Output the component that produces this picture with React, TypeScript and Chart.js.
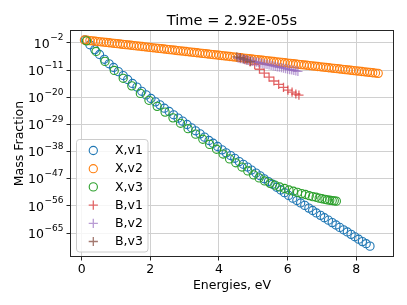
import React, { useEffect, useRef } from "react";
import { Chart, registerables } from "chart.js";

Chart.register(...registerables);

const FONT = "'DejaVu Sans', sans-serif";

// ---- data (energies in eV, mass fraction stored as log10 values) ----
const titleText = "Time = 2.92E-05s";
const xAxisTitle = "Energies, eV";
const yAxisTitle = "Mass Fraction";
const seriesLabels = ["X,v1", "X,v2", "X,v3", "B,v1", "B,v2", "B,v3"];
const seriesColors = [
  "rgba(31,119,180,1)",
  "rgba(255,127,14,1)",
  "rgba(44,160,44,1)",
  "rgba(214,39,40,0.7)",
  "rgba(148,103,189,0.65)",
  "rgba(140,86,75,0.8)",
];

const xTickValues = [0, 2, 4, 6, 8];
const yTickExponents = [-65, -56, -47, -38, -29, -20, -11, -2];

const xv1Energy = [0.10, 0.24, 0.38, 0.52, 0.66, 0.80, 0.93, 1.07, 1.21, 1.34, 1.48, 1.61, 1.75, 1.88, 2.02, 2.15, 2.28, 2.41, 2.55, 2.68, 2.81, 2.94, 3.07, 3.20, 3.32, 3.45, 3.58, 3.71, 3.83, 3.96, 4.09, 4.21, 4.34, 4.46, 4.59, 4.71, 4.83, 4.95, 5.08, 5.20, 5.32, 5.44, 5.56, 5.68, 5.80, 5.91, 6.03, 6.15, 6.27, 6.38, 6.50, 6.62, 6.73, 6.84, 6.96, 7.07, 7.19, 7.30, 7.41, 7.52, 7.63, 7.74, 7.85, 7.96, 8.07, 8.18, 8.29, 8.40];
const xv1LogMF = [-1.0, -2.6, -4.2, -5.8, -7.4, -8.9, -10.1, -11.5, -12.8, -14.1, -15.4, -16.6, -18.0, -19.2, -20.4, -21.5, -22.5, -23.6, -24.7, -25.8, -26.9, -27.9, -29.0, -30.1, -31.1, -32.1, -33.2, -34.3, -35.2, -36.3, -37.4, -38.4, -39.3, -40.2, -41.3, -42.2, -43.1, -44.1, -45.1, -46.0, -47.0, -47.9, -48.8, -49.8, -50.7, -51.6, -52.5, -53.4, -54.2, -55.0, -55.8, -56.7, -57.5, -58.3, -59.1, -59.9, -60.7, -61.5, -62.3, -63.1, -63.9, -64.6, -65.4, -66.2, -67.0, -67.8, -68.5, -69.3];

const xv2Energy = [0.08, 0.16, 0.24, 0.32, 0.40, 0.48, 0.56, 0.64, 0.72, 0.80, 0.88, 0.96, 1.04, 1.12, 1.20, 1.28, 1.36, 1.44, 1.52, 1.60, 1.68, 1.76, 1.84, 1.92, 2.00, 2.08, 2.16, 2.24, 2.32, 2.40, 2.48, 2.56, 2.64, 2.72, 2.80, 2.88, 2.96, 3.04, 3.12, 3.20, 3.28, 3.36, 3.44, 3.52, 3.60, 3.68, 3.76, 3.84, 3.92, 4.00, 4.08, 4.16, 4.24, 4.32, 4.40, 4.48, 4.56, 4.64, 4.72, 4.80, 4.88, 4.96, 5.04, 5.12, 5.20, 5.28, 5.36, 5.44, 5.52, 5.60, 5.68, 5.76, 5.84, 5.92, 6.00, 6.08, 6.16, 6.24, 6.32, 6.40, 6.48, 6.56, 6.64, 6.72, 6.80, 6.88, 6.96, 7.04, 7.12, 7.20, 7.28, 7.36, 7.44, 7.52, 7.60, 7.68, 7.76, 7.84, 7.92, 8.00, 8.08, 8.16, 8.24, 8.32, 8.40, 8.48, 8.56, 8.64];
const xv2LogMF = [-1.00, -1.10, -1.21, -1.31, -1.41, -1.52, -1.62, -1.72, -1.83, -1.93, -2.03, -2.14, -2.24, -2.34, -2.45, -2.55, -2.65, -2.76, -2.86, -2.96, -3.07, -3.17, -3.27, -3.38, -3.48, -3.59, -3.69, -3.79, -3.90, -4.00, -4.10, -4.21, -4.31, -4.41, -4.52, -4.62, -4.72, -4.83, -4.93, -5.03, -5.14, -5.24, -5.34, -5.45, -5.55, -5.65, -5.76, -5.86, -5.96, -6.07, -6.17, -6.27, -6.38, -6.48, -6.58, -6.69, -6.79, -6.89, -7.00, -7.10, -7.20, -7.31, -7.41, -7.51, -7.62, -7.72, -7.82, -7.93, -8.03, -8.13, -8.24, -8.34, -8.44, -8.55, -8.65, -8.76, -8.86, -8.96, -9.07, -9.17, -9.27, -9.38, -9.48, -9.58, -9.69, -9.79, -9.89, -10.00, -10.10, -10.20, -10.31, -10.41, -10.51, -10.62, -10.72, -10.82, -10.93, -11.03, -11.13, -11.24, -11.34, -11.44, -11.55, -11.65, -11.75, -11.86, -11.96, -12.06];

const xv3Energy = [0.14, 0.42, 0.68, 0.95, 1.21, 1.46, 1.71, 1.96, 2.20, 2.43, 2.66, 2.88, 3.10, 3.32, 3.53, 3.73, 3.93, 4.12, 4.31, 4.49, 4.67, 4.84, 5.01, 5.17, 5.33, 5.49, 5.63, 5.77, 5.91, 6.04, 6.17, 6.29, 6.41, 6.52, 6.63, 6.73, 6.83, 6.92, 7.00, 7.09, 7.16, 7.23, 7.30, 7.36, 7.42];
const xv3LogMF = [-1.3, -4.8, -8.1, -11.1, -13.7, -16.2, -18.7, -21.0, -23.0, -24.9, -26.8, -28.6, -30.4, -32.2, -33.9, -35.6, -37.2, -38.8, -40.4, -41.7, -43.1, -44.4, -45.7, -46.7, -47.7, -48.5, -49.1, -49.7, -50.2, -50.7, -51.1, -51.5, -51.9, -52.2, -52.6, -52.9, -53.1, -53.4, -53.6, -53.8, -54.0, -54.1, -54.2, -54.3, -54.4];

const bv1Energy = [4.62, 4.76, 4.90, 5.04, 5.18, 5.32, 5.46, 5.60, 5.74, 5.88, 6.01, 6.13, 6.24, 6.33];
const bv1LogMF = [-6.9, -7.5, -8.2, -9.2, -10.7, -12.0, -13.3, -14.6, -15.7, -16.7, -17.6, -18.3, -18.9, -19.3];

const bv2Energy = [4.56, 4.62, 4.68, 4.74, 4.80, 4.86, 4.92, 4.98, 5.04, 5.10, 5.16, 5.22, 5.28, 5.34, 5.40, 5.46, 5.52, 5.58, 5.64, 5.70, 5.76, 5.82, 5.88, 5.94, 6.00, 6.06, 6.12, 6.18, 6.24, 6.30];
const bv2LogMF = [-7.00, -7.15, -7.30, -7.46, -7.61, -7.76, -7.91, -8.06, -8.22, -8.37, -8.52, -8.67, -8.82, -8.98, -9.13, -9.28, -9.43, -9.58, -9.74, -9.89, -10.04, -10.19, -10.34, -10.50, -10.65, -10.80, -10.95, -11.10, -11.26, -11.41];

const bv3Energy = [4.52, 4.62, 4.72, 4.82, 4.92];
const bv3LogMF = [-6.6, -6.9, -7.3, -7.7, -8.2];

const seriesEnergies = [xv1Energy, xv2Energy, xv3Energy, bv1Energy, bv2Energy, bv3Energy];
const seriesLogMF = [xv1LogMF, xv2LogMF, xv3LogMF, bv1LogMF, bv2LogMF, bv3LogMF];
const seriesMarkers = ["circle", "circle", "circle", "cross", "cross", "cross"];

const CIRCLE_R = 4.1;
const CROSS_R = 4.6;

const drawMarker = (ctx: CanvasRenderingContext2D, style: string, x: number, y: number, r: number, color: string) => {
  ctx.strokeStyle = color;
  ctx.lineWidth = style === "circle" ? 1.1 : 1.3;
  ctx.beginPath();
  if (style === "circle") {
    ctx.arc(x, y, r, 0, Math.PI * 2);
  } else {
    ctx.moveTo(x - r, y);
    ctx.lineTo(x + r, y);
    ctx.moveTo(x, y - r);
    ctx.lineTo(x, y + r);
  }
  ctx.stroke();
};

const decorPlugin = {
  id: "decor",
  afterDatasetsDraw(chart: any) {
    const { ctx, chartArea: a } = chart;
    ctx.save();
    ctx.strokeStyle = "#262626";
    ctx.lineWidth = 1;
    ctx.strokeRect(a.left + 0.5, a.top + 0.5, a.right - a.left - 1, a.bottom - a.top - 1);
    ctx.restore();
  },
  afterDraw(chart: any) {
    const { ctx, chartArea: a } = chart;
    ctx.save();
    const cx = (a.left + a.right) / 2;
    ctx.fillStyle = "#000";
    ctx.textAlign = "center";
    ctx.textBaseline = "alphabetic";
    ctx.font = `14.6px ${FONT}`;
    ctx.fillText(titleText, cx, 25);
    ctx.font = `12.5px ${FONT}`;
    ctx.fillText(xAxisTitle, cx, 289);
    ctx.save();
    ctx.translate(22.5, (a.top + a.bottom) / 2);
    ctx.rotate(-Math.PI / 2);
    ctx.fillText(yAxisTitle, 0, 0);
    ctx.restore();

    // y tick labels: 10 with a raised exponent
    const yScale = chart.scales.y;
    const rightEdge = a.left - 6.5;
    yTickExponents.forEach((e) => {
      const py = yScale.getPixelForValue(Math.pow(10, e));
      const expText = "\u2212" + String(Math.abs(e));
      ctx.font = `9px ${FONT}`;
      const expW = ctx.measureText(expText).width;
      ctx.textAlign = "right";
      ctx.textBaseline = "alphabetic";
      ctx.fillText(expText, rightEdge, py - 2.5);
      ctx.font = `12.5px ${FONT}`;
      ctx.fillText("10", rightEdge - expW - 0.5, py + 4.6);
    });

    // legend
    const lx = 76.5, ly = 139.5, lw = 71.5, lh = 112.5, rr = 3;
    ctx.beginPath();
    ctx.moveTo(lx + rr, ly);
    ctx.arcTo(lx + lw, ly, lx + lw, ly + lh, rr);
    ctx.arcTo(lx + lw, ly + lh, lx, ly + lh, rr);
    ctx.arcTo(lx, ly + lh, lx, ly, rr);
    ctx.arcTo(lx, ly, lx + lw, ly, rr);
    ctx.closePath();
    ctx.fillStyle = "rgba(255,255,255,0.8)";
    ctx.fill();
    ctx.strokeStyle = "#cccccc";
    ctx.lineWidth = 1;
    ctx.stroke();
    ctx.textAlign = "left";
    ctx.textBaseline = "middle";
    ctx.font = `12.5px ${FONT}`;
    seriesLabels.forEach((lab, i) => {
      const y = 150.5 + i * 18.2;
      drawMarker(ctx, seriesMarkers[i], 93.3, y, seriesMarkers[i] === "circle" ? CIRCLE_R : CROSS_R, seriesColors[i]);
      ctx.fillStyle = "#000";
      ctx.fillText(lab, 115, y + 0.5);
    });
    ctx.restore();
  },
};

export default function App() {
  const ref = useRef<HTMLCanvasElement | null>(null);

  useEffect(() => {
    if (!ref.current) return;
    const datasets = seriesLabels.map((label, i) => {
      const isCircle = seriesMarkers[i] === "circle";
      return {
        label,
        data: seriesEnergies[i].map((x, j) => ({ x, y: Math.pow(10, seriesLogMF[i][j]) })),
        showLine: false,
        pointStyle: seriesMarkers[i],
        pointRadius: isCircle ? CIRCLE_R : CROSS_R,
        pointHoverRadius: isCircle ? CIRCLE_R : CROSS_R,
        pointBorderWidth: isCircle ? 1.1 : 1.3,
        borderWidth: isCircle ? 1.1 : 1.3,
        borderColor: seriesColors[i],
        pointBorderColor: seriesColors[i],
        backgroundColor: "rgba(0,0,0,0)",
        pointBackgroundColor: "rgba(0,0,0,0)",
        order: -i,
      };
    });

    const chart = new Chart(ref.current, {
      type: "scatter",
      data: { datasets } as any,
      plugins: [decorPlugin],
      options: {
        animation: false,
        responsive: false,
        devicePixelRatio: 1,
        layout: { padding: { left: 0, top: 30, right: 13, bottom: 0 } },
        plugins: {
          legend: { display: false },
          title: { display: false },
          tooltip: { enabled: false },
        },
        scales: {
          x: {
            type: "linear",
            min: -0.34,
            max: 9.1,
            afterBuildTicks: (scale: any) => {
              scale.ticks = xTickValues.map((v) => ({ value: v }));
            },
            afterFit: (scale: any) => {
              scale.height = 48;
            },
            ticks: {
              color: "#000",
              padding: 2,
              font: { family: FONT, size: 12.5 },
              callback: (v: any) => String(v),
            },
            grid: { color: "#d0d0d0", lineWidth: 1, tickColor: "#262626", tickLength: 3.5, drawTicks: true },
            border: { display: false },
          },
          y: {
            type: "logarithmic",
            min: Math.pow(10, -72.9),
            max: Math.pow(10, 2.3),
            afterBuildTicks: (scale: any) => {
              scale.ticks = yTickExponents.map((e) => ({ value: Math.pow(10, e) }));
            },
            afterFit: (scale: any) => {
              scale.width = 70;
            },
            ticks: {
              color: "rgba(0,0,0,0)",
              padding: 1,
              autoSkip: false,
              font: { family: FONT, size: 12.5 },
              callback: (v: any) => "10^" + Math.round(Math.log10(Number(v))),
            },
            grid: { color: "#d0d0d0", lineWidth: 1, tickColor: "#262626", tickLength: 3.5, drawTicks: true },
            border: { display: false },
          },
        },
      } as any,
    });
    return () => chart.destroy();
  }, []);

  return (
    <div style={{ position: "fixed", left: 0, top: 0, width: 407, height: 305, background: "#fff" }}>
      <canvas ref={ref} width={407} height={305} style={{ display: "block" }} />
    </div>
  );
}
